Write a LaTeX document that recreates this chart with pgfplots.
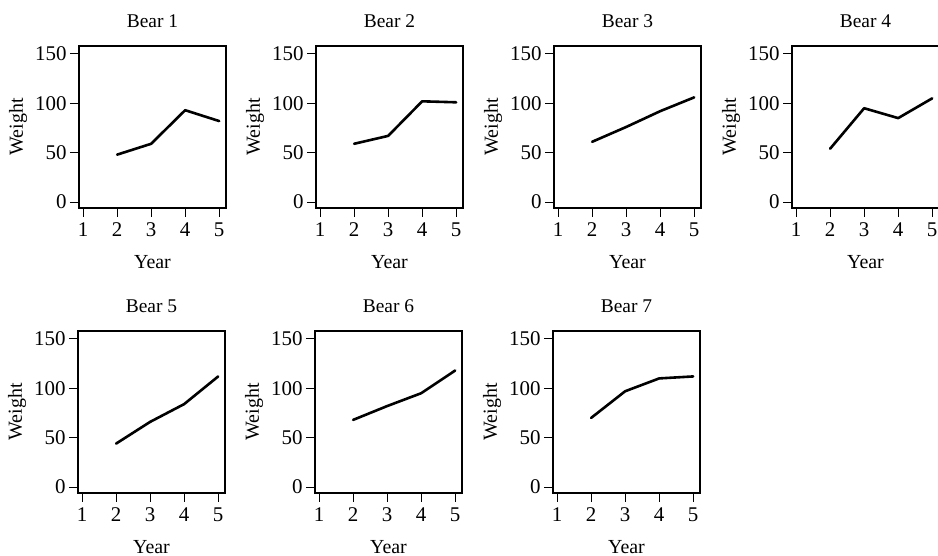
\documentclass[border=0pt]{standalone}
\usepackage{fontspec}
\setmainfont{Liberation Serif}
\usepackage{pgfplots}
\pgfplotsset{compat=1.18}
\pgfplotsset{
  bearstyle/.style={
    scale only axis, width=147bp, height=162bp, anchor=south west,
    xmin=0.88, xmax=5.2, ymin=-6, ymax=158,
    xtick={1,2,3,4,5}, ytick={0,50,100,150},
    xtick pos=left, ytick pos=left,
    tick align=outside, major tick length=9bp,
    tick style={line width=1.1bp, black},
    axis line style={line width=1.8bp},
    xlabel={Year}, ylabel={Weight},
    xlabel style={at={(axis description cs:0.5,-0.333)}, anchor=center},
    ylabel style={at={(axis description cs:-0.415,0.5)}, anchor=center},
    title style={at={(axis description cs:0.5,1.117)}, anchor=center, font=\fontsize{19.5}{22}\selectfont},
    label style={font=\fontsize{20}{24}\selectfont},
    tick label style={font=\fontsize{21}{24}\selectfont},
    xticklabel style={yshift=-2bp},
    /pgf/number format/assume math mode=true,
  },
  bearline/.style={black, line width=2.6bp, line join=round, line cap=round, mark=none},
}
\begin{document}
\begin{tikzpicture}
\path[use as bounding box, clip] (0bp,0bp) rectangle (938bp,556bp);
\begin{axis}[bearstyle, at={(79bp,348bp)}, title={Bear 1}]
\addplot[bearline] coordinates {(2,48) (3,59) (4,93) (5,82)};
\end{axis}
\begin{axis}[bearstyle, at={(316bp,348bp)}, title={Bear 2}]
\addplot[bearline] coordinates {(2,59) (3,67) (4,102) (5,101)};
\end{axis}
\begin{axis}[bearstyle, at={(554bp,348bp)}, title={Bear 3}]
\addplot[bearline] coordinates {(2,61) (3,76) (4,92) (5,106)};
\end{axis}
\begin{axis}[bearstyle, at={(792bp,348bp)}, title={Bear 4}]
\addplot[bearline] coordinates {(2,54) (3,95) (4,85) (5,105)};
\end{axis}
\begin{axis}[bearstyle, at={(78bp,63bp)}, title={Bear 5}]
\addplot[bearline] coordinates {(2,44) (3,66) (4,84) (5,112)};
\end{axis}
\begin{axis}[bearstyle, at={(315bp,63bp)}, title={Bear 6}]
\addplot[bearline] coordinates {(2,68) (3,82) (4,95) (5,118)};
\end{axis}
\begin{axis}[bearstyle, at={(553bp,63bp)}, title={Bear 7}]
\addplot[bearline] coordinates {(2,70) (3,97) (4,110) (5,112)};
\end{axis}
\end{tikzpicture}
\end{document}
